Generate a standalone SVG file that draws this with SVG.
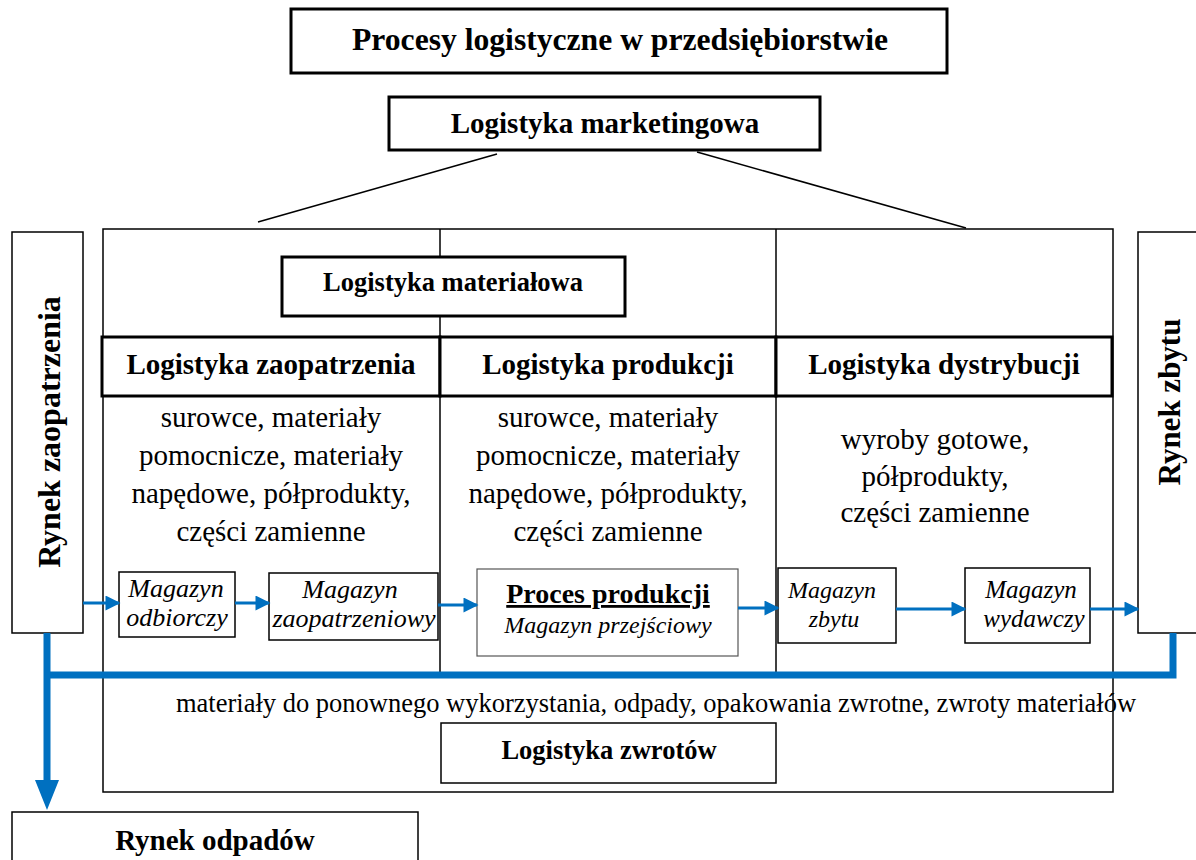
<svg xmlns="http://www.w3.org/2000/svg" width="1196" height="860" viewBox="0 0 1196 860">
  <defs>
    <style>
      .box { fill: #fff; stroke: #000; stroke-width: 1.5; }
      .thick { fill: #fff; stroke: #000; stroke-width: 3; }
      .line { stroke: #000; stroke-width: 1.5; fill: none; }
      .flow { stroke: #0070C0; stroke-width: 3; fill: none; }
      .ret { stroke: #0070C0; stroke-width: 7; fill: none; }
      .b { font-family: "Liberation Serif", "Times New Roman", serif; font-weight: bold; fill: #000; text-anchor: middle; }
      .r { font-family: "Liberation Serif", "Times New Roman", serif; fill: #000; text-anchor: middle; }
      .i { font-family: "Liberation Serif", "Times New Roman", serif; font-style: italic; fill: #000; text-anchor: middle; }
    </style>
    <marker id="ah" viewBox="0 0 10 10" refX="9" refY="5" markerWidth="5.5" markerHeight="5" orient="auto" markerUnits="strokeWidth">
      <path d="M0,0 L10,5 L0,10 z" fill="#0070C0"/>
    </marker>
  </defs>

  <rect width="1196" height="860" fill="#fff"/>

  <!-- outer frame with column dividers -->
  <g id="frame">
    <rect class="box" x="103" y="229" width="1010" height="563"/>
    <line class="line" x1="440" y1="229" x2="440" y2="675"/>
    <line class="line" x1="776" y1="229" x2="776" y2="675"/>
  </g>

  <g id="title">
    <rect class="thick" x="291" y="9" width="656" height="64"/>
    <text class="b" x="620" y="50" font-size="32" textLength="536" lengthAdjust="spacingAndGlyphs">Procesy logistyczne w przedsiębiorstwie</text>
  </g>

  <g id="marketing">
    <rect class="thick" x="389" y="97" width="431" height="53"/>
    <text class="b" x="605" y="133" font-size="29">Logistyka marketingowa</text>
  </g>

  <g id="connectors">
    <line class="line" x1="497" y1="154" x2="258" y2="222"/>
    <line class="line" x1="697" y1="152" x2="966" y2="228"/>
  </g>

  <g id="materialowa">
    <rect class="thick" x="282" y="257" width="343" height="59"/>
    <text class="b" x="453" y="291" font-size="26.5">Logistyka materiałowa</text>
  </g>

  <g id="headers">
    <rect class="thick" x="102" y="337" width="338" height="59"/>
    <rect class="thick" x="440" y="337" width="336" height="59"/>
    <rect class="thick" x="776" y="337" width="336" height="59"/>
    <text class="b" x="271" y="374" font-size="29">Logistyka zaopatrzenia</text>
    <text class="b" x="608" y="374" font-size="29">Logistyka produkcji</text>
    <text class="b" x="944" y="374" font-size="29">Logistyka dystrybucji</text>
  </g>

  <g id="col1-text" font-size="29">
    <text class="r" x="271" y="427">surowce, materiały</text>
    <text class="r" x="271" y="465">pomocnicze, materiały</text>
    <text class="r" x="271" y="503">napędowe, półprodukty,</text>
    <text class="r" x="271" y="541">części zamienne</text>
  </g>
  <g id="col2-text" font-size="29">
    <text class="r" x="608" y="427">surowce, materiały</text>
    <text class="r" x="608" y="465">pomocnicze, materiały</text>
    <text class="r" x="608" y="503">napędowe, półprodukty,</text>
    <text class="r" x="608" y="541">części zamienne</text>
  </g>
  <g id="col3-text" font-size="29">
    <text class="r" x="935" y="449">wyroby gotowe,</text>
    <text class="r" x="935" y="486">półprodukty,</text>
    <text class="r" x="935" y="522">części zamienne</text>
  </g>

  <g id="rynek-zaopatrzenia">
    <rect class="box" x="12" y="232" width="71" height="401"/>
    <text class="b" font-size="32" transform="translate(60,432) rotate(-90)">Rynek zaopatrzenia</text>
  </g>

  <g id="rynek-zbytu">
    <rect class="box" x="1138" y="232" width="70" height="401"/>
    <text class="b" font-size="31" transform="translate(1180,402) rotate(-90)">Rynek zbytu</text>
  </g>

  <g id="mag-odbiorczy">
    <rect class="box" x="119" y="572" width="116" height="65"/>
    <text class="i" x="176" y="597" font-size="26">Magazyn</text>
    <text class="i" x="177" y="626" font-size="26">odbiorczy</text>
  </g>

  <g id="mag-zaopatrzeniowy">
    <rect class="box" x="269" y="573" width="169" height="67"/>
    <text class="i" x="350" y="598" font-size="26">Magazyn</text>
    <text class="i" x="354" y="627" font-size="26">zaopatrzeniowy</text>
  </g>

  <g id="proces-produkcji">
    <rect x="477" y="569" width="261" height="87" fill="#fff" stroke="#555" stroke-width="1.2"/>
    <text class="b" x="608" y="603" font-size="28" text-decoration="underline">Proces produkcji</text>
    <text class="i" x="608" y="633" font-size="24">Magazyn przejściowy</text>
  </g>

  <g id="mag-zbytu">
    <rect class="box" x="778" y="568" width="118" height="75"/>
    <text class="i" x="832" y="598" font-size="24">Magazyn</text>
    <text class="i" x="834" y="627" font-size="24">zbytu</text>
  </g>

  <g id="mag-wydawczy">
    <rect class="box" x="965" y="568" width="125" height="75"/>
    <text class="i" x="1031" y="598" font-size="25">Magazyn</text>
    <text class="i" x="1034" y="627" font-size="25">wydawczy</text>
  </g>

  <g id="flows">
    <line class="flow" x1="83" y1="603" x2="119" y2="603" marker-end="url(#ah)"/>
    <line class="flow" x1="235" y1="603" x2="269" y2="603" marker-end="url(#ah)"/>
    <line class="flow" x1="438" y1="605" x2="477" y2="605" marker-end="url(#ah)"/>
    <line class="flow" x1="738" y1="608" x2="778" y2="608" marker-end="url(#ah)"/>
    <line class="flow" x1="896" y1="609" x2="965" y2="609" marker-end="url(#ah)"/>
    <line class="flow" x1="1090" y1="609" x2="1138" y2="609" marker-end="url(#ah)"/>
  </g>

  <g id="return-flow">
    <polyline class="ret" points="1173,633 1173,675 47,675"/>
    <line class="ret" x1="47" y1="633" x2="47" y2="782"/>
    <path d="M35,780 L59,780 L47,810 z" fill="#0070C0"/>
  </g>

  <text class="r" x="656" y="712" font-size="26.5">materiały do ponownego wykorzystania, odpady, opakowania zwrotne, zwroty materiałów</text>

  <g id="zwroty">
    <rect class="box" x="441" y="723" width="335" height="60"/>
    <text class="b" x="609" y="759" font-size="26.5">Logistyka zwrotów</text>
  </g>

  <g id="rynek-odpadow">
    <rect class="box" x="12" y="812" width="406" height="60"/>
    <text class="b" x="215" y="850" font-size="29">Rynek odpadów</text>
  </g>
</svg>
